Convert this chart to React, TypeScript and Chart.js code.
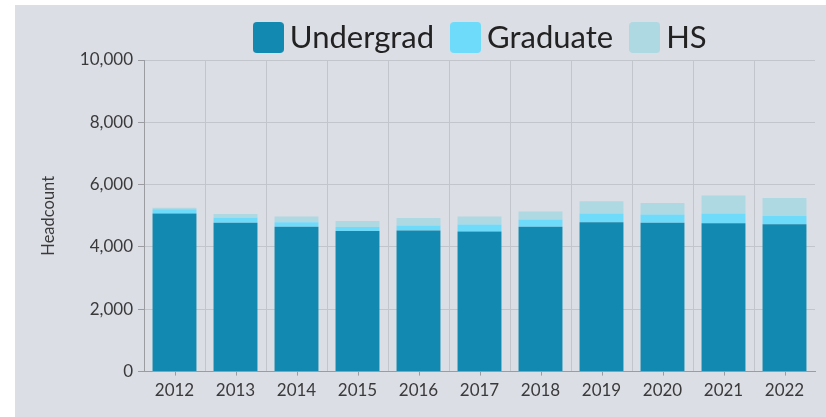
import React, { useEffect, useRef } from "react";
import { Chart, registerables } from "chart.js";

Chart.register(...registerables);

const years = ["2012", "2013", "2014", "2015", "2016", "2017", "2018", "2019", "2020", "2021", "2022"];
const undergrad = [5070, 4780, 4650, 4510, 4530, 4500, 4650, 4790, 4780, 4760, 4730];
const graduate = [140, 160, 140, 130, 160, 220, 230, 280, 260, 310, 260];
const hs = [50, 120, 190, 190, 240, 260, 260, 400, 370, 580, 580];
const yTicks = [0, 2000, 4000, 6000, 8000, 10000];
const seriesNames = ["Undergrad", "Graduate", "HS"];
const seriesColors = ["#1289b0", "#6edbfb", "#aed8e2"];

const BG = "#dcdee6";
const GRID = "#c3c5cc";
const AXIS = "#9b9ca2";
const TEXT = "#3a3a3a";
const FONT = "Lato, 'Noto Sans', sans-serif";

function makeSwatch(color: string) {
  const c = document.createElement("canvas");
  c.width = 31;
  c.height = 31;
  const g = c.getContext("2d")!;
  g.fillStyle = color;
  g.beginPath();
  (g as any).roundRect(0, 0, 31, 31, 4);
  g.fill();
  return c;
}

export default function App() {
  const ref = useRef<HTMLCanvasElement | null>(null);

  useEffect(() => {
    if (!ref.current) return;
    const swatches = seriesColors.map(makeSwatch);
    const tickPlugin = {
      id: "centerTicks",
      beforeLayout(chart: any) {
        const lg = chart.legend;
        if (lg && !lg.__patched) {
          const orig = lg.fit.bind(lg);
          lg.fit = function () {
            orig();
            this.height = 55;
          };
          lg.__patched = true;
        }
      },
      afterLayout(chart: any) {
        const lg = chart.legend;
        if (lg) {
          lg.top -= 8.5;
          lg.left += 5;
          lg.right += 5;
        }
      },
      afterDraw(chart: any) {
        const sx = chart.scales.x;
        const c = chart.ctx;
        c.save();
        c.strokeStyle = AXIS;
        c.lineWidth = 1;
        for (let i = 0; i < sx.ticks.length; i++) {
          const px = Math.round(sx.getPixelForTick(i)) + 0.5;
          c.beginPath();
          c.moveTo(px, sx.top);
          c.lineTo(px, sx.top + 4);
          c.stroke();
        }
        c.restore();
      },
    };
    const chart = new Chart(ref.current, {
      type: "bar",
      data: {
        labels: years,
        datasets: [
          { label: seriesNames[0], data: undergrad, backgroundColor: seriesColors[0], borderWidth: 0 },
          { label: seriesNames[1], data: graduate, backgroundColor: seriesColors[1], borderWidth: 0 },
          { label: seriesNames[2], data: hs, backgroundColor: seriesColors[2], borderWidth: 0 },
        ],
      },
      options: {
        animation: false,
        responsive: false,
        maintainAspectRatio: false,
        layout: { padding: { top: 0, right: 11, left: 0, bottom: 7 } },
        plugins: {
          legend: {
            position: "top",
            fullSize: false,
            labels: {
              usePointStyle: true,
              boxWidth: 12,
              boxHeight: 31,
              padding: 25.5,
              color: "#222",
              font: { family: FONT, size: 31 },
              generateLabels: (ch: any) => {
                const items = Chart.defaults.plugins.legend.labels.generateLabels(ch);
                return items.map((it: any, i: number) => ({ ...it, pointStyle: swatches[i], lineWidth: 0 }));
              },
            },
          },
          tooltip: { enabled: false },
        },
        scales: {
          x: {
            stacked: true,
            grid: {
              offset: true,
              drawTicks: false,
              color: (ctx: any) => (ctx.type === "tick" ? GRID : "rgba(0,0,0,0)"),
            },
            border: { display: true, color: AXIS },
            ticks: { color: TEXT, padding: 9, font: { family: FONT, size: 17 } },
          },
          y: {
            stacked: true,
            min: 0,
            max: 10000,
            afterBuildTicks: (scale: any) => {
              scale.ticks = yTicks.map((v) => ({ value: v }));
            },
            afterFit: (scale: any) => {
              scale.width = 129;
            },
            grid: { color: GRID, tickLength: 6, tickColor: AXIS },
            border: { display: true, color: AXIS },
            ticks: {
              color: TEXT,
              padding: 5,
              font: { family: FONT, size: 17 },
              callback: (v: any) => Number(v).toLocaleString("en-US"),
            },
            title: {
              display: true,
              text: "Headcount",
              color: TEXT,
              padding: { top: 24, bottom: 0 },
              font: { family: FONT, size: 16.5 },
            },
          },
        },
      },
      plugins: [tickPlugin],
    });
    return () => chart.destroy();
  }, []);

  return (
    <div style={{ position: "absolute", left: 15, top: 5, width: 811, height: 412, background: BG }}>
      <canvas ref={ref} width={811} height={412} style={{ display: "block" }} />
    </div>
  );
}
